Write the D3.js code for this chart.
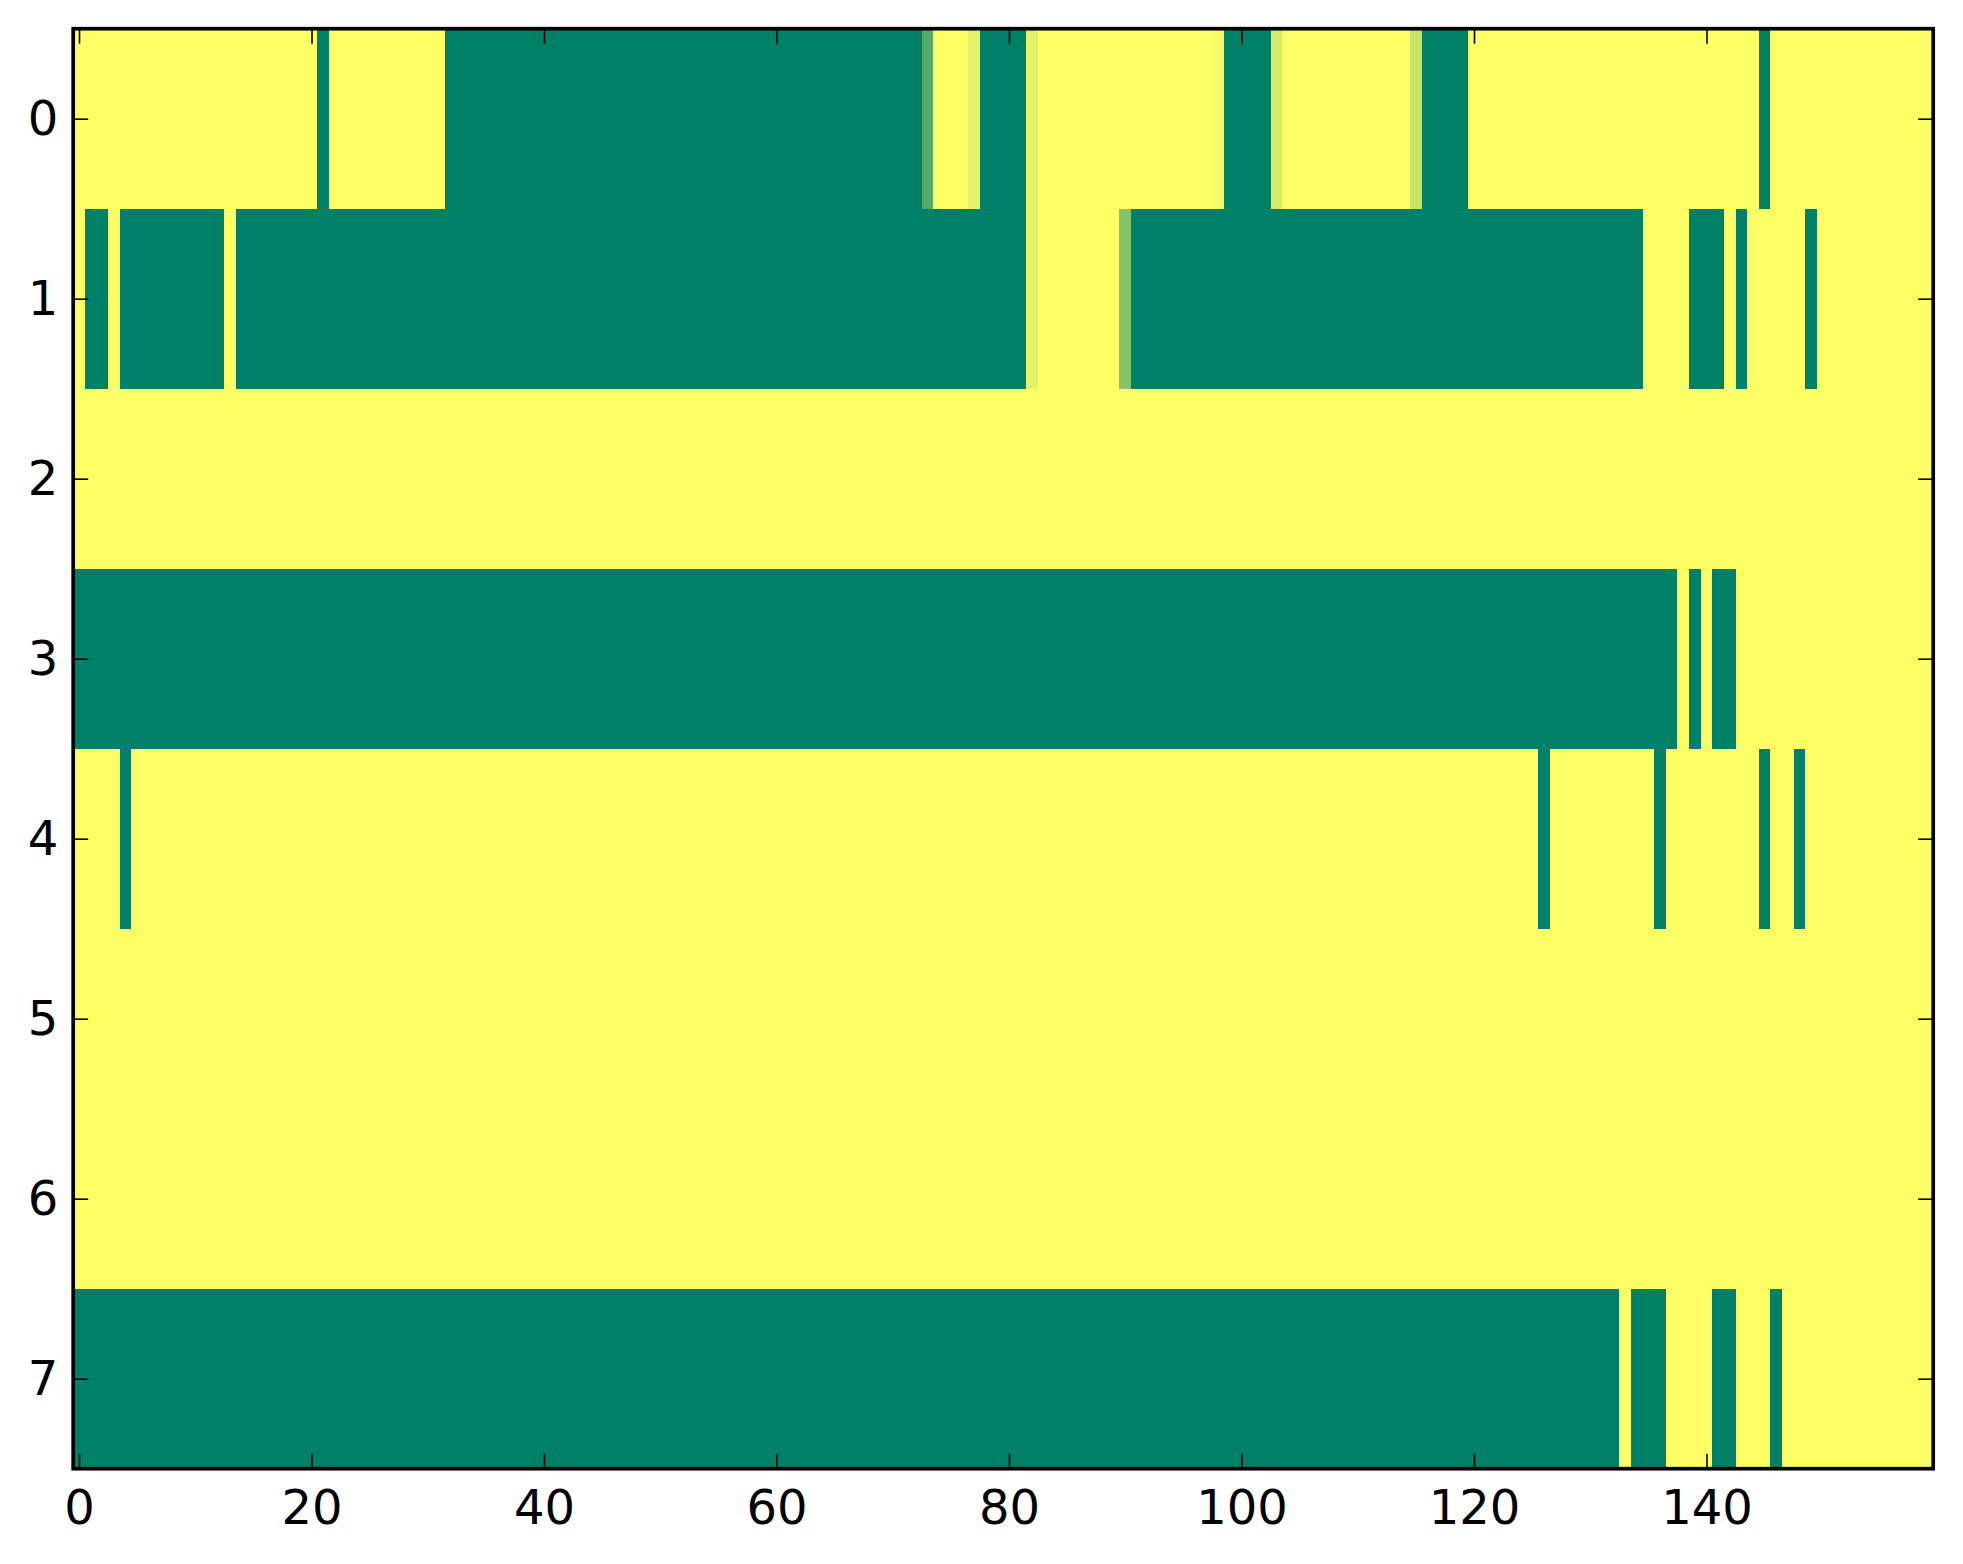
<!DOCTYPE html>
<html>
<head>
<meta charset="utf-8">
<script src="https://cdn.jsdelivr.net/npm/d3@7"></script>
<style>
  html, body { margin: 0; padding: 0; background: #ffffff; }
  svg { display: block; }
  .tick text { font-family: "DejaVu Sans", sans-serif; font-size: 48px; fill: #000; }
</style>
</head>
<body>
<svg id="chart" width="1963" height="1564"></svg>
<script>
// ---- data (0 = green, 1 = yellow) ----
const rowLabels = [0, 1, 2, 3, 4, 5, 6, 7];
const xTickValues = [0, 20, 40, 60, 80, 100, 120, 140];
const nCols = 160;

const row0 = [
  1,1,1,1,1,1,1,1,1,1, 1,1,1,1,1,1,1,1,1,1,
  1,0,1,1,1,1,1,1,1,1, 1,1,0,0,0,0,0,0,0,0,
  0,0,0,0,0,0,0,0,0,0, 0,0,0,0,0,0,0,0,0,0,
  0,0,0,0,0,0,0,0,0,0, 0,0,0,0.33,1,1,1,0.9,0,0,
  0,0,0.9,1,1,1,1,1,1,1, 1,1,1,1,1,1,1,1,0.96,0,
  0,0,0,0.84,1,1,1,1,1,1, 1,1,1,1,1,0.79,0,0,0,0,
  1,1,1,1,1,1,1,1,1,1, 1,1,1,1,1,1,1,1,1,1,
  1,1,1,1,1,0,1,1,1,1, 1,1,1,1,1,1,1,1,1,1
];
const row1 = [
  1,0,0,1,0,0,0,0,0,0, 0,0,0,1,0,0,0,0,0,0,
  0,0,0,0,0,0,0,0,0,0, 0,0,0,0,0,0,0,0,0,0,
  0,0,0,0,0,0,0,0,0,0, 0,0,0,0,0,0,0,0,0,0,
  0,0,0,0,0,0,0,0,0,0, 0,0,0,0,0,0,0,0,0,0,
  0,0,0.9,1,1,1,1,1,1,1, 0.53,0,0,0,0,0,0,0,0,0,
  0,0,0,0,0,0,0,0,0,0, 0,0,0,0,0,0,0,0,0,0,
  0,0,0,0,0,0,0,0,0,0, 0,0,0,0,0,1,1,1,1,0,
  0,0,1,0,1,1,1,1,1,0, 1,1,1,1,1,1,1,1,1,1
];
const row2 = [
  1,1,1,1,1,1,1,1,1,1, 1,1,1,1,1,1,1,1,1,1,
  1,1,1,1,1,1,1,1,1,1, 1,1,1,1,1,1,1,1,1,1,
  1,1,1,1,1,1,1,1,1,1, 1,1,1,1,1,1,1,1,1,1,
  1,1,1,1,1,1,1,1,1,1, 1,1,1,1,1,1,1,1,1,1,
  1,1,1,1,1,1,1,1,1,1, 1,1,1,1,1,1,1,1,1,1,
  1,1,1,1,1,1,1,1,1,1, 1,1,1,1,1,1,1,1,1,1,
  1,1,1,1,1,1,1,1,1,1, 1,1,1,1,1,1,1,1,1,1,
  1,1,1,1,1,1,1,1,1,1, 1,1,1,1,1,1,1,1,1,1
];
const row3 = [
  0,0,0,0,0,0,0,0,0,0, 0,0,0,0,0,0,0,0,0,0,
  0,0,0,0,0,0,0,0,0,0, 0,0,0,0,0,0,0,0,0,0,
  0,0,0,0,0,0,0,0,0,0, 0,0,0,0,0,0,0,0,0,0,
  0,0,0,0,0,0,0,0,0,0, 0,0,0,0,0,0,0,0,0,0,
  0,0,0,0,0,0,0,0,0,0, 0,0,0,0,0,0,0,0,0,0,
  0,0,0,0,0,0,0,0,0,0, 0,0,0,0,0,0,0,0,0,0,
  0,0,0,0,0,0,0,0,0,0, 0,0,0,0,0,0,0,0,1,0,
  1,0,0,1,1,1,1,1,1,1, 1,1,1,1,1,1,1,1,1,1
];
const row4 = [
  1,1,1,1,0,1,1,1,1,1, 1,1,1,1,1,1,1,1,1,1,
  1,1,1,1,1,1,1,1,1,1, 1,1,1,1,1,1,1,1,1,1,
  1,1,1,1,1,1,1,1,1,1, 1,1,1,1,1,1,1,1,1,1,
  1,1,1,1,1,1,1,1,1,1, 1,1,1,1,1,1,1,1,1,1,
  1,1,1,1,1,1,1,1,1,1, 1,1,1,1,1,1,1,1,1,1,
  1,1,1,1,1,1,1,1,1,1, 1,1,1,1,1,1,1,1,1,1,
  1,1,1,1,1,1,0,1,1,1, 1,1,1,1,1,1,0,1,1,1,
  1,1,1,1,1,0,1,1,0,1, 1,1,1,1,1,1,1,1,1,1
];
const row5 = row2.slice();
const row6 = row2.slice();
const row7 = [
  0,0,0,0,0,0,0,0,0,0, 0,0,0,0,0,0,0,0,0,0,
  0,0,0,0,0,0,0,0,0,0, 0,0,0,0,0,0,0,0,0,0,
  0,0,0,0,0,0,0,0,0,0, 0,0,0,0,0,0,0,0,0,0,
  0,0,0,0,0,0,0,0,0,0, 0,0,0,0,0,0,0,0,0,0,
  0,0,0,0,0,0,0,0,0,0, 0,0,0,0,0,0,0,0,0,0,
  0,0,0,0,0,0,0,0,0,0, 0,0,0,0,0,0,0,0,0,0,
  0,0,0,0,0,0,0,0,0,0, 0,0,0,1,0,0,0,1,1,1,
  1,0,0,1,1,1,0,1,1,1, 1,1,1,1,1,1,1,1,1,1
];
const rows = [row0, row1, row2, row3, row4, row5, row6, row7];

// ---- layout ----
const plotLeft = 73.2, plotRight = 1933.2, plotTop = 28.7, plotBottom = 1468.7;
const svg = d3.select("#chart");

const x = d3.scaleLinear().domain([-0.5, nCols - 0.5]).range([plotLeft, plotRight]);
const y = d3.scaleLinear().domain([-0.5, rowLabels.length - 0.5]).range([plotTop, plotBottom]);
// matplotlib "summer" colormap
const color = d3.scaleLinear().domain([0, 1]).range(["#008066", "#ffff66"]).interpolate(d3.interpolateRgb);

const cells = [];
rows.forEach((vals, r) => vals.forEach((v, c) => cells.push({ r, c, v })));

svg.append("g")
  .attr("shape-rendering", "crispEdges")
  .selectAll("rect")
  .data(cells)
  .join("rect")
  .attr("x", d => Math.round(x(d.c - 0.5)))
  .attr("y", d => Math.round(y(d.r - 0.5)))
  .attr("width", d => Math.round(x(d.c + 0.5)) - Math.round(x(d.c - 0.5)))
  .attr("height", d => Math.round(y(d.r + 0.5)) - Math.round(y(d.r - 0.5)))
  .attr("fill", d => color(d.v));

// ---- axes (ticks point inward on all four sides) ----
const tickLen = 15;
function styleAxis(g) {
  g.select(".domain").remove();
  g.selectAll(".tick line").attr("stroke", "#000").attr("stroke-width", 1.6);
}

svg.append("g")
  .attr("transform", `translate(0,${plotBottom})`)
  .call(d3.axisBottom(x).tickValues(xTickValues).tickSizeInner(-tickLen).tickSizeOuter(0).tickPadding(21).tickFormat(d3.format("d")))
  .call(styleAxis);

svg.append("g")
  .attr("transform", `translate(0,${plotTop})`)
  .call(d3.axisTop(x).tickValues(xTickValues).tickSizeInner(-tickLen).tickSizeOuter(0).tickFormat(""))
  .call(styleAxis);

svg.append("g")
  .attr("transform", `translate(${plotLeft},0)`)
  .call(d3.axisLeft(y).tickValues(rowLabels).tickSizeInner(-tickLen).tickSizeOuter(0).tickPadding(15).tickFormat(d3.format("d")))
  .call(styleAxis);

svg.append("g")
  .attr("transform", `translate(${plotRight},0)`)
  .call(d3.axisRight(y).tickValues(rowLabels).tickSizeInner(-tickLen).tickSizeOuter(0).tickFormat(""))
  .call(styleAxis);

svg.selectAll(".tick text").attr("fill", "#000");

// frame
svg.append("rect")
  .attr("x", plotLeft).attr("y", plotTop)
  .attr("width", plotRight - plotLeft).attr("height", plotBottom - plotTop)
  .attr("fill", "none").attr("stroke", "#000").attr("stroke-width", 3.7);
</script>
</body>
</html>
